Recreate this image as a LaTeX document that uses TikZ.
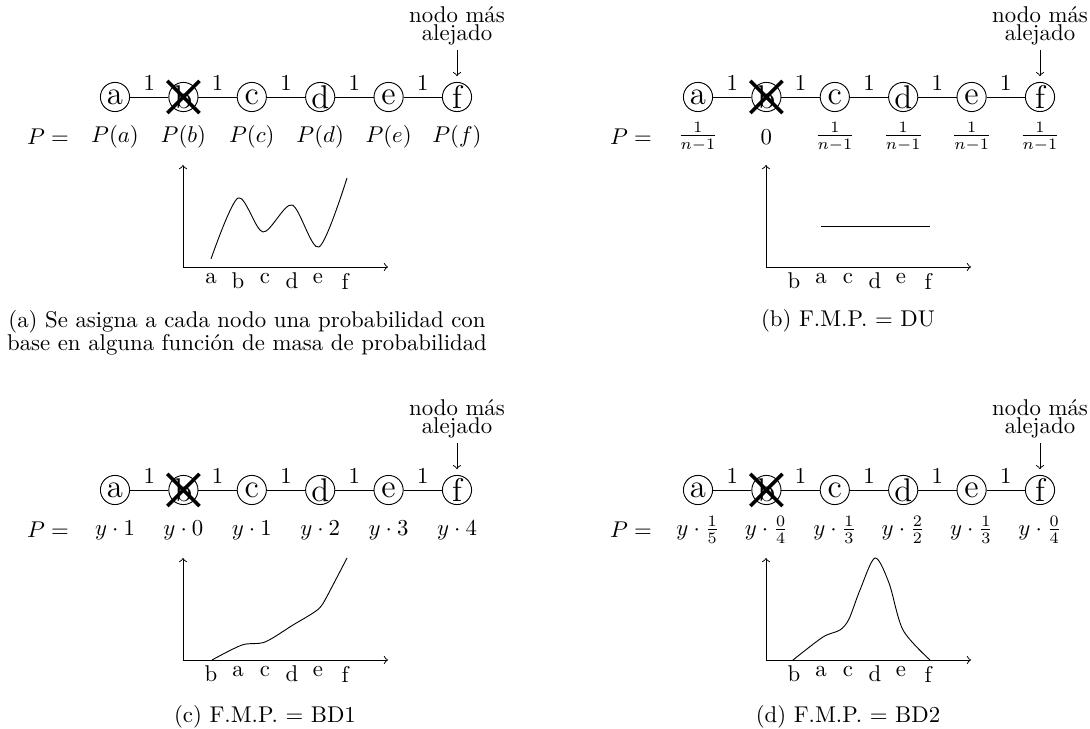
\documentclass[tikz,border=0pt]{standalone}
\usepackage{tikz}
\usetikzlibrary{positioning,shapes.misc}
\tikzset{
    vert/.style={circle, draw, font=\Large, inner sep=0pt, minimum size=12.8pt, on grid},
    tacha/.style={cross out, draw, ultra thick, minimum size=12.5pt, inner sep=0pt},
    peso/.style={above, inner sep=2.5pt},
    prob/.style={on grid},
    lejos/.style={align=center, inner sep=2pt},
    eje/.style={<->},
    marca/.style={below, inner sep=2.5pt},
    curva/.style={thin},
    pie/.style={align=center},
}
\begin{document}
\begin{tikzpicture}[x=0.4386pt, y=-0.4386pt, node distance=30pt]
    \useasboundingbox (0,0) rectangle (1090,729);

    % (a) panel
    \node[vert] (a1) at (115,97) {a};
    \node[vert, right=of a1] (b1) {b};
    \node[vert, right=of b1] (c1) {c};
    \node[vert, right=of c1] (d1) {d};
    \node[vert, right=of d1] (e1) {e};
    \node[vert, right=of e1] (f1) {f};
    \node[tacha] (xb1) at (b1) {};
    \draw (a1) -- node[peso] {1} (b1) -- node[peso] {1} (c1) -- node[peso] {1} (d1) -- node[peso] {1} (e1) -- node[peso] {1} (f1);
    \node[lejos, above=14pt of f1] (nf1) {nodo más\\[-4pt]alejado};
    \draw[->, shorten >=2.5pt] (nf1) -- (f1);
    \node[prob, below=17.5pt of a1] (pa1) {$P(a)$};
    \node[prob, below=17.5pt of b1] (pb1) {$P(b)$};
    \node[prob, below=17.5pt of c1] (pc1) {$P(c)$};
    \node[prob, below=17.5pt of d1] (pd1) {$P(d)$};
    \node[prob, below=17.5pt of e1] (pe1) {$P(e)$};
    \node[prob, below=17.5pt of f1] (pf1) {$P(f)$};
    \node[prob, left=29.4pt of pa1] (pq1) {$P=$};
    \coordinate (o1) at (183,267);
    \coordinate (xe1) at (388,267);
    \coordinate (ye1) at (183,165);
    \draw[eje] (ye1) -- (o1) -- (xe1);
    \node[marca] (ta1) at (211,267) {a};
    \node[marca] (tb1) at (238,267) {b};
    \node[marca] (tc1) at (265,267) {c};
    \node[marca] (td1) at (292,267) {d};
    \node[marca] (te1) at (318,267) {e};
    \node[marca] (tf1) at (345,267) {f};
    \draw[curva] plot[smooth] coordinates {(211,259) (238,198) (263,232) (292,205) (319,247) (347,178)};
    \node[pie] (cap1) at (247,333) {(a) Se asigna a cada nodo una probabilidad con\\[-2pt]base en alguna función de masa de probabilidad};

    % (b) panel
    \begin{scope}[shift={(583,0)}]
    \node[vert] (a2) at (115,97) {a};
    \node[vert, right=of a2] (b2) {b};
    \node[vert, right=of b2] (c2) {c};
    \node[vert, right=of c2] (d2) {d};
    \node[vert, right=of d2] (e2) {e};
    \node[vert, right=of e2] (f2) {f};
    \node[tacha] (xb2) at (b2) {};
    \draw (a2) -- node[peso] {1} (b2) -- node[peso] {1} (c2) -- node[peso] {1} (d2) -- node[peso] {1} (e2) -- node[peso] {1} (f2);
    \node[lejos, above=14pt of f2] (nf2) {nodo más\\[-4pt]alejado};
    \draw[->, shorten >=2.5pt] (nf2) -- (f2);
    \node[prob, below=17.5pt of a2] (pa2) {$\frac{1}{n-1}$};
    \node[prob, below=17.5pt of b2] (pb2) {$0$};
    \node[prob, below=17.5pt of c2] (pc2) {$\frac{1}{n-1}$};
    \node[prob, below=17.5pt of d2] (pd2) {$\frac{1}{n-1}$};
    \node[prob, below=17.5pt of e2] (pe2) {$\frac{1}{n-1}$};
    \node[prob, below=17.5pt of f2] (pf2) {$\frac{1}{n-1}$};
    \node[prob, left=29.4pt of pa2] (pq2) {$P=$};
    \coordinate (o2) at (183,267);
    \coordinate (xe2) at (388,267);
    \coordinate (ye2) at (183,165);
    \draw[eje] (ye2) -- (o2) -- (xe2);
    \node[marca] (tb2) at (211,267) {b};
    \node[marca] (ta2) at (238,267) {a};
    \node[marca] (tc2) at (265,267) {c};
    \node[marca] (td2) at (292,267) {d};
    \node[marca] (te2) at (318,267) {e};
    \node[marca] (tf2) at (345,267) {f};
    \draw[curva] (238,226) -- (347,226);
    \node[pie] (cap2) at (265,321) {(b) F.M.P. $=$ DU};
    \end{scope}

    % (c) panel
    \begin{scope}[shift={(0,393)}]
    \node[vert] (a3) at (115,97) {a};
    \node[vert, right=of a3] (b3) {b};
    \node[vert, right=of b3] (c3) {c};
    \node[vert, right=of c3] (d3) {d};
    \node[vert, right=of d3] (e3) {e};
    \node[vert, right=of e3] (f3) {f};
    \node[tacha] (xb3) at (b3) {};
    \draw (a3) -- node[peso] {1} (b3) -- node[peso] {1} (c3) -- node[peso] {1} (d3) -- node[peso] {1} (e3) -- node[peso] {1} (f3);
    \node[lejos, above=14pt of f3] (nf3) {nodo más\\[-4pt]alejado};
    \draw[->, shorten >=2.5pt] (nf3) -- (f3);
    \node[prob, below=17.5pt of a3] (pa3) {$y\cdot 1$};
    \node[prob, below=17.5pt of b3] (pb3) {$y\cdot 0$};
    \node[prob, below=17.5pt of c3] (pc3) {$y\cdot 1$};
    \node[prob, below=17.5pt of d3] (pd3) {$y\cdot 2$};
    \node[prob, below=17.5pt of e3] (pe3) {$y\cdot 3$};
    \node[prob, below=17.5pt of f3] (pf3) {$y\cdot 4$};
    \node[prob, left=29.4pt of pa3] (pq3) {$P=$};
    \coordinate (o3) at (183,267);
    \coordinate (xe3) at (388,267);
    \coordinate (ye3) at (183,165);
    \draw[eje] (ye3) -- (o3) -- (xe3);
    \node[marca] (tb3) at (211,267) {b};
    \node[marca] (ta3) at (238,267) {a};
    \node[marca] (tc3) at (265,267) {c};
    \node[marca] (td3) at (292,267) {d};
    \node[marca] (te3) at (318,267) {e};
    \node[marca] (tf3) at (345,267) {f};
    \draw[curva] plot[smooth] coordinates {(212,267) (242,252) (265,249) (293,232) (313,220) (322,212) (334,190) (347,165)};
    \node[pie] (cap3) at (265,324) {(c) F.M.P. $=$ BD1};
    \end{scope}

    % (d) panel
    \begin{scope}[shift={(583,393)}]
    \node[vert] (a4) at (115,97) {a};
    \node[vert, right=of a4] (b4) {b};
    \node[vert, right=of b4] (c4) {c};
    \node[vert, right=of c4] (d4) {d};
    \node[vert, right=of d4] (e4) {e};
    \node[vert, right=of e4] (f4) {f};
    \node[tacha] (xb4) at (b4) {};
    \draw (a4) -- node[peso] {1} (b4) -- node[peso] {1} (c4) -- node[peso] {1} (d4) -- node[peso] {1} (e4) -- node[peso] {1} (f4);
    \node[lejos, above=14pt of f4] (nf4) {nodo más\\[-4pt]alejado};
    \draw[->, shorten >=2.5pt] (nf4) -- (f4);
    \node[prob, below=17.5pt of a4] (pa4) {$y\cdot\frac{1}{5}$};
    \node[prob, below=17.5pt of b4] (pb4) {$y\cdot\frac{0}{4}$};
    \node[prob, below=17.5pt of c4] (pc4) {$y\cdot\frac{1}{3}$};
    \node[prob, below=17.5pt of d4] (pd4) {$y\cdot\frac{2}{2}$};
    \node[prob, below=17.5pt of e4] (pe4) {$y\cdot\frac{1}{3}$};
    \node[prob, below=17.5pt of f4] (pf4) {$y\cdot\frac{0}{4}$};
    \node[prob, left=29.4pt of pa4] (pq4) {$P=$};
    \coordinate (o4) at (183,267);
    \coordinate (xe4) at (388,267);
    \coordinate (ye4) at (183,165);
    \draw[eje] (ye4) -- (o4) -- (xe4);
    \node[marca] (tb4) at (211,267) {b};
    \node[marca] (ta4) at (238,267) {a};
    \node[marca] (tc4) at (265,267) {c};
    \node[marca] (td4) at (292,267) {d};
    \node[marca] (te4) at (318,267) {e};
    \node[marca] (tf4) at (345,267) {f};
    \draw[curva] plot[smooth] coordinates {(210,267) (240,244) (257,237) (266,226) (277,197) (292,165) (306,190) (320,237) (347,267)};
    \node[pie] (cap4) at (265,324) {(d) F.M.P. $=$ BD2};
    \end{scope}
\end{tikzpicture}
\end{document}
